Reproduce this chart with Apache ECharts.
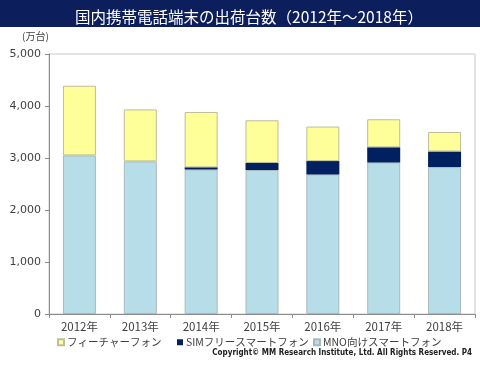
<!DOCTYPE html>
<html><head><meta charset="utf-8">
<script src="https://cdn.jsdelivr.net/npm/echarts@6/dist/echarts.min.js"></script>
<style>html,body{margin:0;padding:0;background:#fff}#c{width:480px;height:366px}</style>
</head><body><div id="c"></div>
<script>
const categories = ['2012年','2013年','2014年','2015年','2016年','2017年','2018年'];
const mnoSmart = [3050, 2935, 2780, 2770, 2685, 2915, 2825];
const simFree = [0, 0, 40, 135, 255, 290, 300];
const featurePhone = [1340, 1000, 1065, 820, 665, 540, 375];
const yTicks = [0, 1000, 2000, 3000, 4000, 5000];

const JP = '"Noto Sans CJK JP", sans-serif';
const chart = echarts.init(document.getElementById('c'));
const legendBase = {top: 337, padding: 0, icon: 'rect', itemWidth: 6, itemHeight: 6, itemGap: 0,
  textStyle: {fontFamily: JP, fontSize: 10.5, color: '#404040', padding: [0,0,0,-2]}};
chart.setOption({
  animation: false,
  title: {text: '国内携帯電話端末の出荷台数（2012年～2018年）', left: 244, top: 4, textAlign: 'center',
    textStyle: {fontFamily: JP, fontSize: 15.5, fontWeight: 'normal', color: '#ffffff'}, z: 10},
  graphic: [
    {type: 'rect', shape: {x: 0, y: 0, width: 480, height: 27}, style: {fill: '#0c1f5c'}, z: 1},
    {type: 'text', left: 22, top: 31, style: {text: '(万台)', font: '10px "Noto Sans CJK JP"', fill: '#404040'}},
    {type: 'text', right: 8, top: 349, style: {text: 'Copyright© MM Research Institute, Ltd. All Rights Reserved. P4', font: 'bold 8px "DejaVu Sans Condensed"', fill: '#222'}}
  ],
  legend: [
    Object.assign({left: 57, data: ['フィーチャーフォン']}, legendBase),
    Object.assign({left: 177, data: ['SIMフリースマートフォン']}, legendBase),
    Object.assign({left: 313, data: ['MNO向けスマートフォン']}, legendBase)
  ],
  grid: {left: 49, right: 5, top: 54, bottom: 52, show: true, borderColor: '#c8c8c8', borderWidth: 1},
  xAxis: {type: 'category', data: categories,
    axisLine: {lineStyle: {color: '#8c8c8c'}},
    axisTick: {show: true, interval: 0, length: 4, lineStyle: {color: '#8c8c8c'}},
    axisLabel: {fontFamily: JP, fontSize: 11.5, color: '#404040', margin: 7}},
  yAxis: {type: 'value', min: yTicks[0], max: yTicks[yTicks.length-1], interval: 1000,
    axisLine: {show: true, lineStyle: {color: '#8c8c8c'}},
    axisTick: {show: true, length: 4, lineStyle: {color: '#8c8c8c'}},
    splitLine: {show: false},
    axisLabel: {fontFamily: '"DejaVu Sans"', fontSize: 11, color: '#404040', margin: 8,
      formatter: v => v.toLocaleString('en-US')}},
  series: [
    {name: 'MNO向けスマートフォン', type: 'bar', stack: 's', data: mnoSmart, barWidth: 33,
      itemStyle: {color: '#b7dde8', borderColor: '#a8b8bc', borderWidth: 1}},
    {name: 'SIMフリースマートフォン', type: 'bar', stack: 's', data: simFree, barWidth: 33,
      itemStyle: {color: '#002060'}},
    {name: 'フィーチャーフォン', type: 'bar', stack: 's', data: featurePhone, barWidth: 33,
      itemStyle: {color: '#ffff99', borderColor: '#bdbd9a', borderWidth: 1}}
  ]
});
</script></body></html>
